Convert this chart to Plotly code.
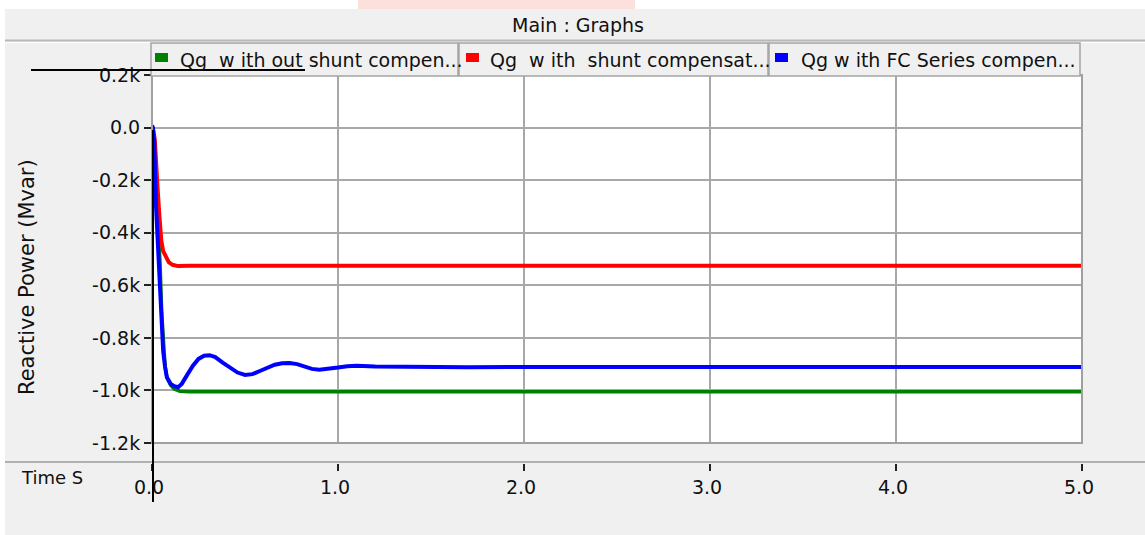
import plotly.graph_objects as go

# ---------------- data ----------------
t_green = [0, 0.008, 0.016, 0.025, 0.034, 0.043, 0.052, 0.061, 0.07, 0.08, 0.09,
           0.1, 0.12, 0.15, 0.2, 0.5, 1.0, 2.0, 3.0, 4.0, 5.0]
q_green = [0, -50, -127, -294, -400, -510, -702, -820, -906, -950, -970,
           -980, -995, -1003, -1005, -1005, -1005, -1005, -1005, -1005, -1005]

t_red = [0, 0.008, 0.015, 0.022, 0.03, 0.04, 0.05, 0.06, 0.075, 0.09, 0.11,
         0.14, 0.2, 0.5, 1.0, 2.0, 3.0, 4.0, 5.0]
q_red = [0, -15, -45, -110, -230, -340, -430, -470, -495, -512, -522,
         -527, -526, -526, -525, -524, -525, -525, -526]

t_blue = [0, 0.005, 0.012, 0.016, 0.022, 0.03, 0.04, 0.05, 0.06, 0.07, 0.08,
          0.1, 0.12, 0.14, 0.16, 0.19, 0.22, 0.25, 0.28, 0.31, 0.34, 0.38,
          0.42, 0.46, 0.5, 0.54, 0.58, 0.62, 0.66, 0.7, 0.74, 0.78, 0.82,
          0.86, 0.9, 0.95, 1.0, 1.05, 1.1, 1.2, 1.4, 1.7, 2.0, 3.0, 4.0, 5.0]
q_blue = [8, 0, -60, -200, -306, -420, -560, -720, -850, -910, -950,
          -975, -984, -988, -975, -940, -906, -880, -868, -866, -873, -894,
          -915, -932, -941, -938, -926, -912, -902, -897, -896, -900, -910,
          -918, -921, -918, -913, -908, -906, -909, -911, -912, -911, -911, -911, -911]

series_names = ["Qg  w ith out shunt compen...",
                "Qg  w ith  shunt compensat...",
                "Qg w ith FC Series compen..."]
series_colors = ["#008000", "#ff0000", "#0000ff"]

y_tick_vals = [-1200, -1000, -800, -600, -400, -200, 0, 200]
y_tick_text = ["-1.2k", "-1.0k", "-0.8k", "-0.6k", "-0.4k", "-0.2k", "0.0", "0.2k"]
x_tick_vals = [0, 1, 2, 3, 4, 5]
x_tick_text = ["0.0", "1.0", "2.0", "3.0", "4.0", "5.0"]

# ---------------- geometry helpers (pixel -> paper) ----------------
W, H = 1145, 535
L, R, T, B = 152, 1082, 75, 463
PLOT_BOTTOM = 443


def px(x):
    return (x - L) / (R - L)


def py(y):
    return (B - y) / (B - T)


FONT = "DejaVu Sans"
GRID = "#a8a8a8"

fig = go.Figure()
for t, q, name, col, w in [(t_green, q_green, series_names[0], series_colors[0], 3.5),
                           (t_red, q_red, series_names[1], series_colors[1], 4),
                           (t_blue, q_blue, series_names[2], series_colors[2], 4)]:
    fig.add_trace(go.Scatter(x=t, y=q, mode="lines", name=name,
                             line=dict(color=col, width=w), showlegend=False))

shapes = []


def rect(x0, y0, x1, y1, fill=None, line=None, lw=0, layer="above"):
    shapes.append(dict(type="rect", xref="paper", yref="paper",
                       x0=px(x0), x1=px(x1), y0=py(y0), y1=py(y1),
                       fillcolor=fill if fill else "rgba(0,0,0,0)",
                       line=dict(color=line if line else "rgba(0,0,0,0)", width=lw),
                       layer=layer))


def hline(x0, x1, y, color, lw):
    shapes.append(dict(type="line", xref="paper", yref="paper",
                       x0=px(x0), x1=px(x1), y0=py(y), y1=py(y),
                       line=dict(color=color, width=lw), layer="above"))


def vline(x, y0, y1, color, lw):
    shapes.append(dict(type="line", xref="paper", yref="paper",
                       x0=px(x), x1=px(x), y0=py(y0), y1=py(y1),
                       line=dict(color=color, width=lw), layer="above"))


# background strips
rect(0, 0, W, 9, fill="white", layer="below")
rect(358, 0, 635, 9, fill="#fbe0dc", layer="below")
rect(0, 9, 5, H, fill="white", layer="below")
# title bar separator
hline(5, W, 40.5, "#b8b8b8", 2)
hline(5, W, 42.5, "#ffffff", 1)
# plot frame
rect(L, T, R, PLOT_BOTTOM, line="#a0a0a0", lw=2)
# legend boxes
boxes = [(151, 458), (459, 768), (769, 1080)]
sq_x = [155, 466, 775]
txt_x = [178, 488, 799]
for (bx0, bx1) in boxes:
    rect(bx0, 43, bx1, 76, fill="#f0f0f0", line="#a4a4a4", lw=1.5)
for sx, col in zip(sq_x, series_colors):
    rect(sx, 53, sx + 13, 62, fill=col)
# bottom separator
hline(5, W, 462, "#b0b0b0", 2)
# stray black lines
hline(31, 305, 70, "#000000", 2)
vline(153, 130, 502, "#000000", 2)

annotations = [
    dict(text="Main : Graphs", x=px(578), y=py(25), xref="paper", yref="paper",
         showarrow=False, xanchor="center", yanchor="middle",
         font=dict(family=FONT, size=19, color="#111")),
    dict(text="Time S", x=px(19), y=py(477), xref="paper", yref="paper",
         showarrow=False, xanchor="left", yanchor="middle",
         font=dict(family=FONT, size=18, color="#111")),
    dict(text="Reactive Power (Mvar)", x=px(27), y=py(277), xref="paper", yref="paper",
         showarrow=False, xanchor="center", yanchor="middle", textangle=-90,
         font=dict(family=FONT, size=21, color="#111")),
]
for tx, name in zip(txt_x, series_names):
    annotations.append(dict(text=name, x=px(tx), y=py(60), xref="paper", yref="paper",
                            showarrow=False, xanchor="left", yanchor="middle",
                            font=dict(family=FONT, size=19, color="#111")))

fig.update_layout(
    width=W, height=H, autosize=False,
    margin=dict(l=L, r=W - R, t=T, b=H - B, pad=0),
    paper_bgcolor="#f0f0f0", plot_bgcolor="#ffffff",
    showlegend=False,
    shapes=shapes, annotations=annotations,
    xaxis=dict(range=[0, 5], anchor="free", position=0,
               tickvals=x_tick_vals, ticktext=x_tick_text,
               showgrid=True, gridcolor=GRID, gridwidth=2, zeroline=False,
               showline=False, ticks="outside", ticklen=7, tickwidth=2,
               tickcolor="#222", ticklabelshift=-3,
               tickfont=dict(family=FONT, size=19, color="#111")),
    yaxis=dict(range=[-1200, 200], domain=[py(PLOT_BOTTOM), 1],
               tickvals=y_tick_vals, ticktext=y_tick_text,
               showgrid=True, gridcolor=GRID, gridwidth=2, zeroline=False,
               showline=False, ticks="outside", ticklen=7, tickwidth=2,
               tickcolor="#222",
               tickfont=dict(family=FONT, size=19, color="#111")),
)

fig.write_html("out.html")
